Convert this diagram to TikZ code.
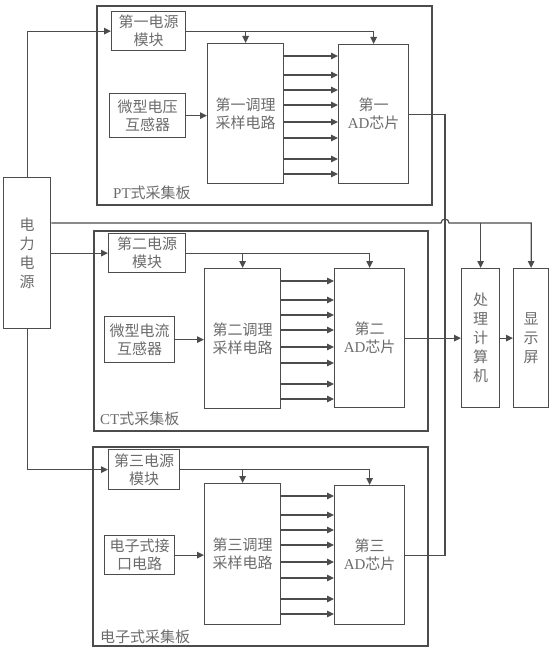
\documentclass[tikz,border=0pt]{standalone}
\usepackage{xcolor}
\usepackage{fontspec}
\setmainfont{Liberation Serif}
\newfontfamily\cjk{Noto Sans CJK SC}
\usetikzlibrary{arrows.meta}
\definecolor{linegray}{gray}{0.3}
\definecolor{textgray}{gray}{0.42}

\begin{document}
\begin{tikzpicture}[x=1pt, y=-1pt,
    box/.style={draw=linegray, line width=1.3pt, anchor=north west, inner sep=0pt,
        align=center, text=textgray, font={\cjk\fontsize{15}{18}\selectfont}},
    board/.style={draw=linegray, line width=1.3pt},
    boardlabel/.style={anchor=west, inner sep=0pt, text=textgray, font={\cjk\fontsize{15}{18}\selectfont}},
    wire/.style={draw=linegray, line width=1.2pt},
    arr/.style={wire, -{Triangle[length=7pt, width=6.5pt]}}]
        \useasboundingbox (0,0) rectangle (553,650);

        % Draw the three acquisition boards
        \draw[board] (97,6) rectangle (432,205);
        \draw[board] (94,231) rectangle (428,431);
        \draw[board] (93,447) rectangle (428,646);
        \node[boardlabel] (ptlabel) at (113,193) {{\rmfamily PT}式采集板};
        \node[boardlabel] (ctlabel) at (100,419) {{\rmfamily CT}式采集板};
        \node[boardlabel] (ellabel) at (100,637) {电子式采集板};

        % PT board
        \node[box, minimum width=74, minimum height=39] (mod1) at (111,11) {第一电源\\模块};
        \node[box, minimum width=76, minimum height=44] (sen1) at (109,93) {微型电压\\互感器};
        \node[box, minimum width=76, minimum height=140] (cond1) at (207,43) {第一调理\\采样电路};
        \node[box, minimum width=70, minimum height=139] (ad1) at (338,44) {第一\\{\rmfamily AD}芯片};

        % CT board
        \node[box, minimum width=77, minimum height=39] (mod2) at (108,233) {第二电源\\模块};
        \node[box, minimum width=70, minimum height=46] (sen2) at (104,316) {微型电流\\互感器};
        \node[box, minimum width=76, minimum height=140] (cond2) at (204,268) {第二调理\\采样电路};
        \node[box, minimum width=70, minimum height=139] (ad2) at (334,268) {第二\\{\rmfamily AD}芯片};

        % Electronic board
        \node[box, minimum width=71, minimum height=40] (mod3) at (108,449) {第三电源\\模块};
        \node[box, minimum width=70, minimum height=39] (sen3) at (104,535) {电子式接\\口电路};
        \node[box, minimum width=76, minimum height=141] (cond3) at (204,483) {第三调理\\采样电路};
        \node[box, minimum width=70, minimum height=139] (ad3) at (334,485) {第三\\{\rmfamily AD}芯片};

        % Power source, computer and display
        \node[box, minimum width=47, minimum height=151, font={\cjk\fontsize{15}{19}\selectfont}] (pwr) at (3,177) {电\\力\\电\\源};
        \node[box, minimum width=38, minimum height=139, font={\cjk\fontsize{15}{19}\selectfont}] (pc) at (461,268) {处\\理\\计\\算\\机};
        \node[box, minimum width=35, minimum height=139, font={\cjk\fontsize{15}{19}\selectfont}] (disp) at (513,268) {显\\示\\屏};

        % Connections inside each board
        \foreach \b in {1,2,3} {
            \draw[arr] (mod\b.east) -| (ad\b.north);
            \draw[arr] (mod\b.east -| cond\b.north) -- (cond\b.north);
            \draw[arr] (sen\b.east) -- (sen\b.east -| cond\b.west);
            \foreach \d in {13,32,47,62,79,95,116,131}
                \draw[arr] ([yshift=-\d pt]cond\b.north east) -- ([yshift=-\d pt]cond\b.north east -| ad\b.west);
        }

        % Power supply lines
        \coordinate (hop) at (445,223);
        \draw[arr] (pwr.north) |- (mod1.west);
        \draw[arr] (pwr.east |- mod2.west) -- (mod2.west);
        \draw[arr] (pwr.south) |- (mod3.west);
        \draw[arr] (pwr.east |- hop) -- ([xshift=-4pt]hop) arc[start angle=180, end angle=0, radius=4pt] -| (disp.north);
        \draw[arr] (hop -| pc.north) -- (pc.north);

        % AD outputs to computer
        \draw[wire] (ad1.east) -| (hop |- ad3.east) -- (ad3.east);
        \draw[arr] (ad2.east) -- (pc.west);
        \draw[arr] (pc.east) -- (disp.west);
    \end{tikzpicture}
\end{document}
